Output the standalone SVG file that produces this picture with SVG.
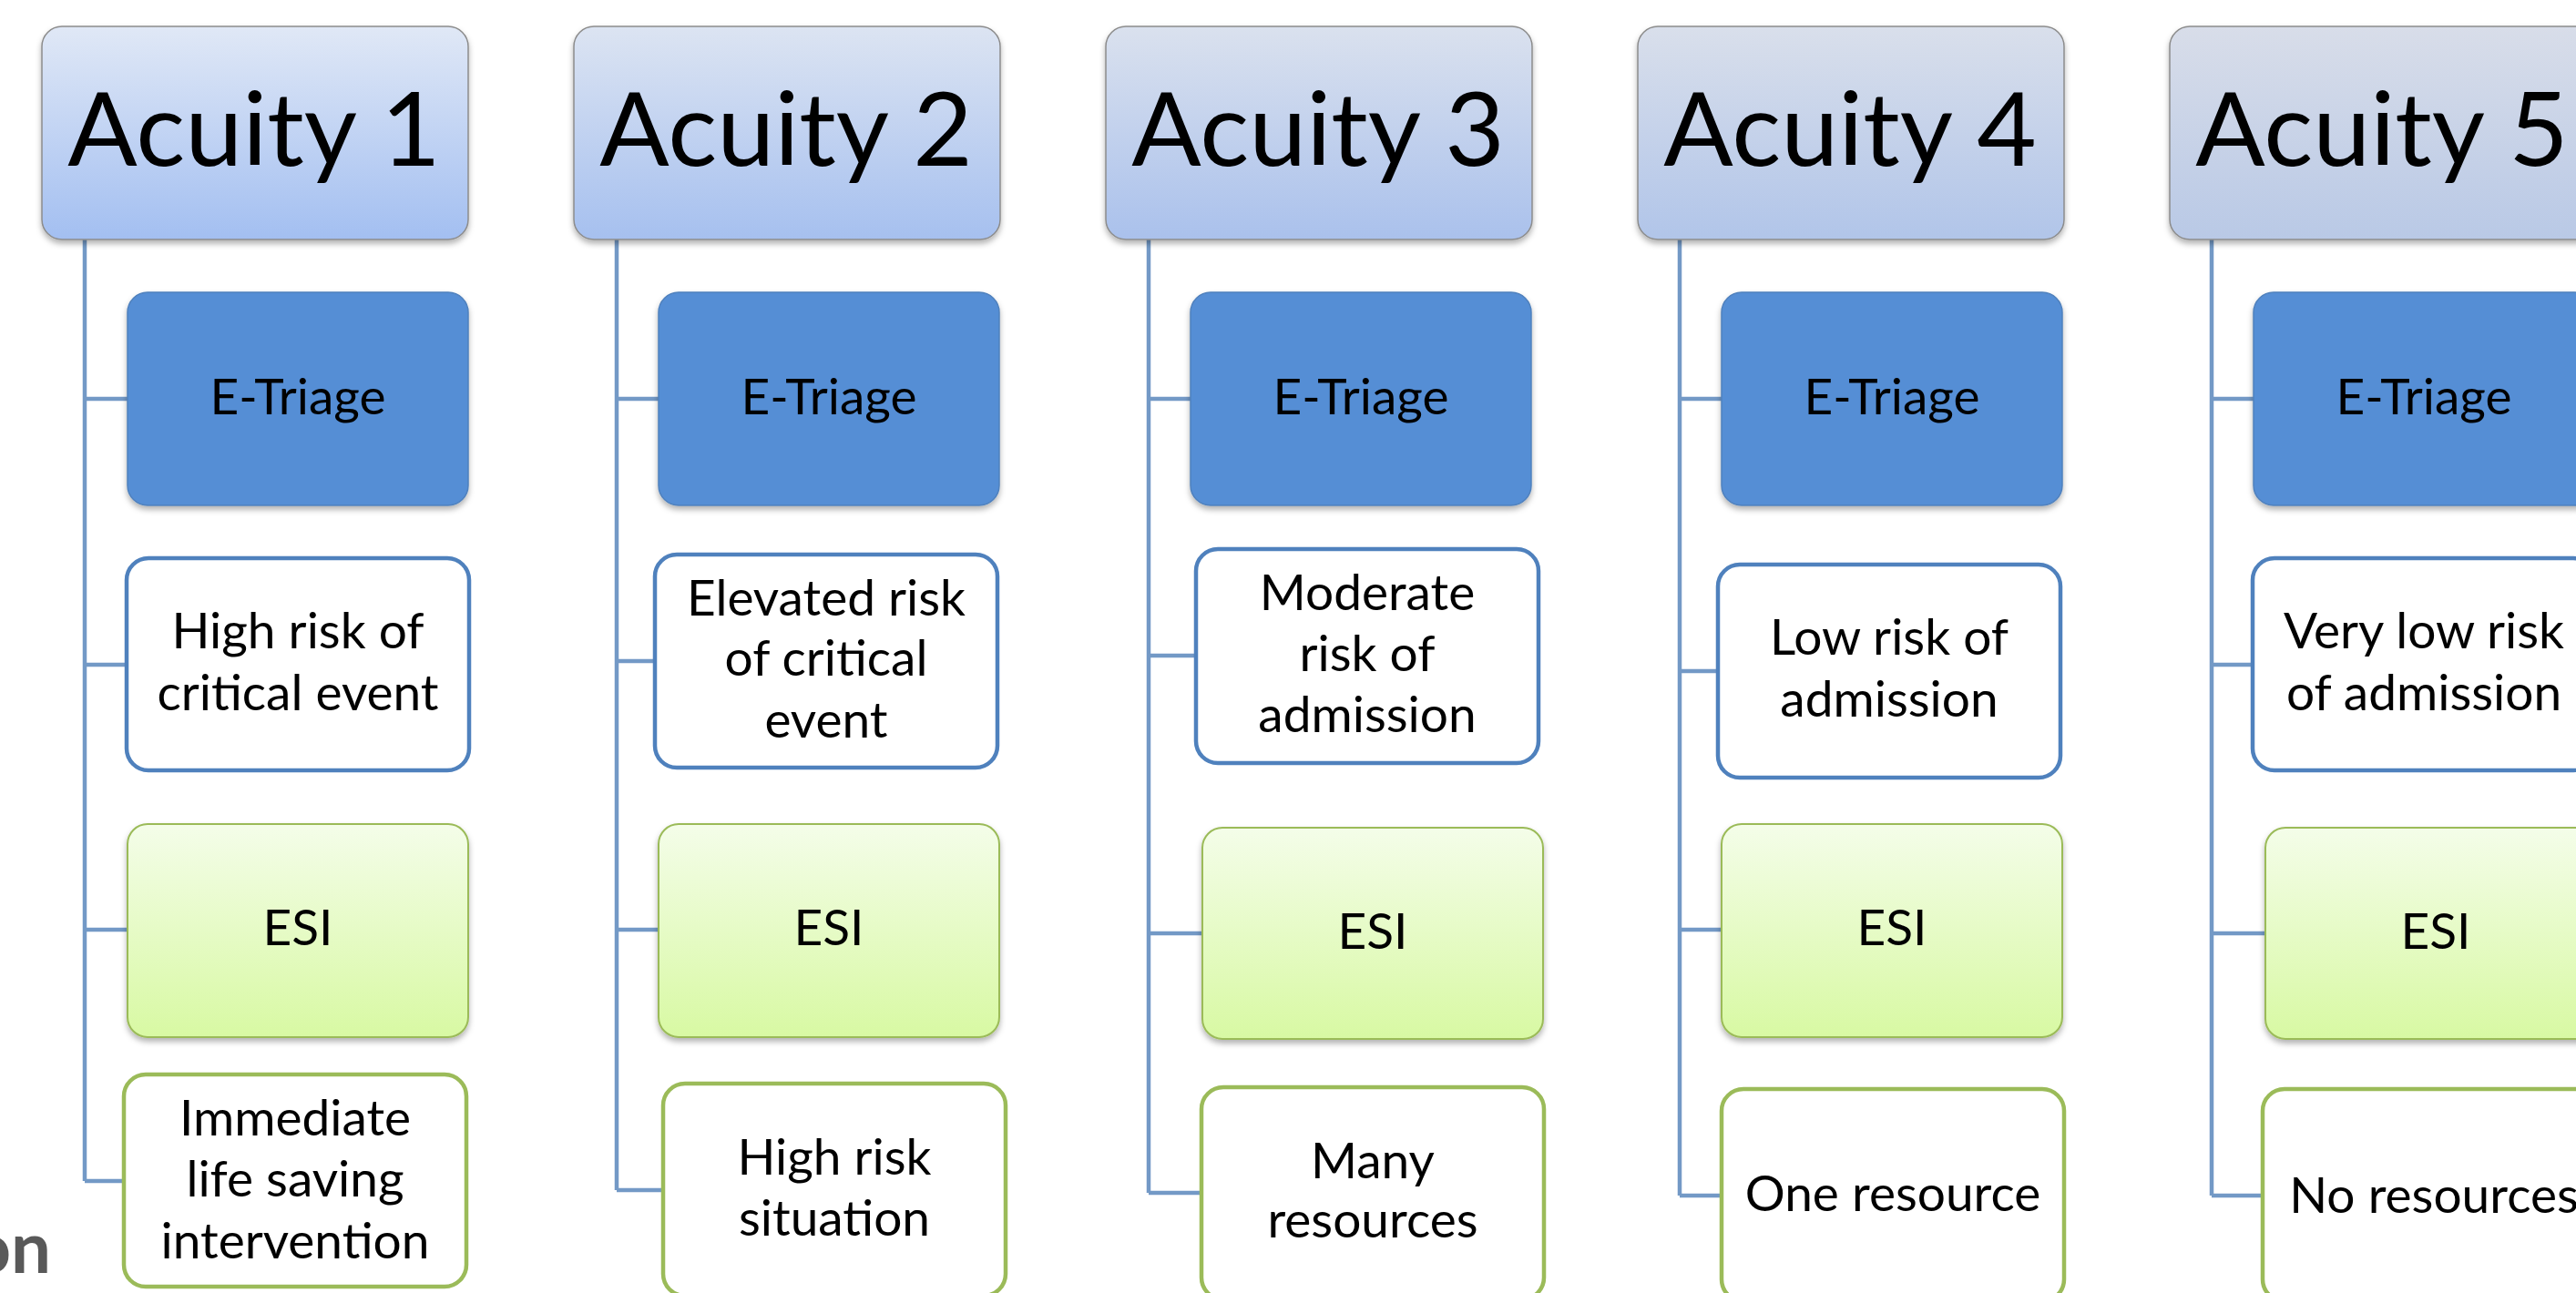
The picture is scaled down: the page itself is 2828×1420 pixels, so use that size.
<svg xmlns="http://www.w3.org/2000/svg" width="2828" height="1420" viewBox="0 0 2828 1420">
  <defs>
    <linearGradient id="hdr1" x1="0" y1="0" x2="0" y2="1"><stop offset="0" stop-color="#e0e8f6"/><stop offset="1" stop-color="#a3bff1"/></linearGradient>
    <linearGradient id="hdr2" x1="0" y1="0" x2="0" y2="1"><stop offset="0" stop-color="#dce4f2"/><stop offset="1" stop-color="#a6c0ef"/></linearGradient>
    <linearGradient id="hdr3" x1="0" y1="0" x2="0" y2="1"><stop offset="0" stop-color="#dae1ee"/><stop offset="1" stop-color="#aac1ec"/></linearGradient>
    <linearGradient id="hdr4" x1="0" y1="0" x2="0" y2="1"><stop offset="0" stop-color="#d9dfeb"/><stop offset="1" stop-color="#b1c5e9"/></linearGradient>
    <linearGradient id="hdr5" x1="0" y1="0" x2="0" y2="1"><stop offset="0" stop-color="#d8dde9"/><stop offset="1" stop-color="#b9c9e6"/></linearGradient>
    <linearGradient id="esiFill" x1="0" y1="0" x2="0" y2="1"><stop offset="0" stop-color="#f4fde9"/><stop offset="1" stop-color="#d8f9a3"/></linearGradient>
    <filter id="shadow" x="-5%" y="-5%" width="110%" height="115%">
      <feDropShadow dx="0" dy="4" stdDeviation="3" flood-color="#000" flood-opacity="0.3"/>
    </filter>
  </defs>
  <style>
    .hdr { stroke: #8c8c8c; stroke-width: 1.5; filter: url(#shadow); }
    .etri { fill: #558ed5; stroke: #4f81bd; stroke-width: 1.5; filter: url(#shadow); }
    .esi { fill: url(#esiFill); stroke: #9bbb59; stroke-width: 2; filter: url(#shadow); }
    .risk { fill: #ffffff; stroke: #4f81bd; stroke-width: 4.5; }
    .need { fill: #ffffff; stroke: #9bbb59; stroke-width: 4.5; }
    .conn { fill: none; stroke: #7399c6; stroke-width: 4.5; }
    text { font-family: Lato, "Open Sans", "Liberation Sans", sans-serif; fill: #000; text-anchor: middle; }
    .title { font-size: 113px; }
    .lbl { font-size: 55px; }
    .cut { font-size: 78px; font-weight: bold; fill: #595959; text-anchor: end; }
  </style>

  <!-- tree connectors: one trunk per column, one branch per child -->
  <g id="connectors">
    <path class="conn" d="M93 263 V1297 M93 438 H140 M93 730 H139 M93 1021 H140 M93 1297 H136"/>
    <path class="conn" d="M677 263 V1307 M677 438 H723 M677 726 H719 M677 1021 H723 M677 1307 H728"/>
    <path class="conn" d="M1261 263 V1310 M1261 438 H1307 M1261 720 H1313 M1261 1025 H1320 M1261 1310 H1319"/>
    <path class="conn" d="M1844 263 V1313 M1844 438 H1890 M1844 737 H1886 M1844 1021 H1890 M1844 1313 H1890"/>
    <path class="conn" d="M2428 263 V1313 M2428 438 H2474 M2428 730 H2473 M2428 1025 H2487 M2428 1313 H2484"/>
  </g>

  <!-- Acuity 1 -->
  <g id="acuity1">
    <rect class="hdr" x="46" y="29" width="468" height="234" rx="22" fill="url(#hdr1)"/>
    <text class="title" x="279" y="182">Acuity 1</text>
  </g>
  <g id="a1-etriage">
    <rect class="etri" x="140" y="321" width="374" height="234" rx="22"/>
    <text class="lbl" x="327" y="455">E-Triage</text>
  </g>
  <g id="a1-risk">
    <rect class="risk" x="139" y="613" width="376" height="233" rx="24"/>
    <text class="lbl" x="327" y="712">High risk of</text>
    <text class="lbl" x="327" y="780">critical event</text>
  </g>
  <g id="a1-esi">
    <rect class="esi" x="140" y="905" width="374" height="234" rx="22"/>
    <text class="lbl" x="327" y="1038">ESI</text>
  </g>
  <g id="a1-need">
    <rect class="need" x="136" y="1180" width="376" height="233" rx="24"/>
    <text class="lbl" x="324" y="1247">Immediate</text>
    <text class="lbl" x="324" y="1314">life saving</text>
    <text class="lbl" x="324" y="1382">intervention</text>
  </g>

  <!-- Acuity 2 -->
  <g id="acuity2">
    <rect class="hdr" x="630" y="29" width="468" height="234" rx="22" fill="url(#hdr2)"/>
    <text class="title" x="863" y="182">Acuity 2</text>
  </g>
  <g id="a2-etriage">
    <rect class="etri" x="723" y="321" width="374" height="234" rx="22"/>
    <text class="lbl" x="910" y="455">E-Triage</text>
  </g>
  <g id="a2-risk">
    <rect class="risk" x="719" y="609" width="376" height="234" rx="24"/>
    <text class="lbl" x="907" y="676">Elevated risk</text>
    <text class="lbl" x="907" y="742">of critical</text>
    <text class="lbl" x="907" y="810">event</text>
  </g>
  <g id="a2-esi">
    <rect class="esi" x="723" y="905" width="374" height="234" rx="22"/>
    <text class="lbl" x="910" y="1038">ESI</text>
  </g>
  <g id="a2-need">
    <rect class="need" x="728" y="1190" width="376" height="233" rx="24"/>
    <text class="lbl" x="916" y="1290">High risk</text>
    <text class="lbl" x="916" y="1357">situation</text>
  </g>

  <!-- Acuity 3 -->
  <g id="acuity3">
    <rect class="hdr" x="1214" y="29" width="468" height="234" rx="22" fill="url(#hdr3)"/>
    <text class="title" x="1447" y="182">Acuity 3</text>
  </g>
  <g id="a3-etriage">
    <rect class="etri" x="1307" y="321" width="374" height="234" rx="22"/>
    <text class="lbl" x="1494" y="455">E-Triage</text>
  </g>
  <g id="a3-risk">
    <rect class="risk" x="1313" y="603" width="376" height="235" rx="24"/>
    <text class="lbl" x="1501" y="670">Moderate</text>
    <text class="lbl" x="1501" y="737">risk of</text>
    <text class="lbl" x="1501" y="804">admission</text>
  </g>
  <g id="a3-esi">
    <rect class="esi" x="1320" y="909" width="374" height="232" rx="22"/>
    <text class="lbl" x="1507" y="1042">ESI</text>
  </g>
  <g id="a3-need">
    <rect class="need" x="1319" y="1194" width="376" height="233" rx="24"/>
    <text class="lbl" x="1507" y="1294">Many</text>
    <text class="lbl" x="1507" y="1359">resources</text>
  </g>

  <!-- Acuity 4 -->
  <g id="acuity4">
    <rect class="hdr" x="1798" y="29" width="468" height="234" rx="22" fill="url(#hdr4)"/>
    <text class="title" x="2031" y="182">Acuity 4</text>
  </g>
  <g id="a4-etriage">
    <rect class="etri" x="1890" y="321" width="374" height="234" rx="22"/>
    <text class="lbl" x="2077" y="455">E-Triage</text>
  </g>
  <g id="a4-risk">
    <rect class="risk" x="1886" y="620" width="376" height="234" rx="24"/>
    <text class="lbl" x="2074" y="719">Low risk of</text>
    <text class="lbl" x="2074" y="787">admission</text>
  </g>
  <g id="a4-esi">
    <rect class="esi" x="1890" y="905" width="374" height="234" rx="22"/>
    <text class="lbl" x="2077" y="1038">ESI</text>
  </g>
  <g id="a4-need">
    <rect class="need" x="1890" y="1196" width="376" height="233" rx="24"/>
    <text class="lbl" x="2078" y="1330">One resource</text>
  </g>

  <!-- Acuity 5 -->
  <g id="acuity5">
    <rect class="hdr" x="2382" y="29" width="468" height="234" rx="22" fill="url(#hdr5)"/>
    <text class="title" x="2615" y="182">Acuity 5</text>
  </g>
  <g id="a5-etriage">
    <rect class="etri" x="2474" y="321" width="374" height="234" rx="22"/>
    <text class="lbl" x="2661" y="455">E-Triage</text>
  </g>
  <g id="a5-risk">
    <rect class="risk" x="2473" y="613" width="376" height="233" rx="24"/>
    <text class="lbl" x="2661" y="712">Very low risk</text>
    <text class="lbl" x="2661" y="780">of admission</text>
  </g>
  <g id="a5-esi">
    <rect class="esi" x="2487" y="909" width="374" height="232" rx="22"/>
    <text class="lbl" x="2674" y="1042">ESI</text>
  </g>
  <g id="a5-need">
    <rect class="need" x="2484" y="1196" width="376" height="233" rx="24"/>
    <text class="lbl" x="2672" y="1332">No resources</text>
  </g>

  <!-- word tail at the left edge -->
  <text class="cut" x="56" y="1398">on</text>
</svg>
